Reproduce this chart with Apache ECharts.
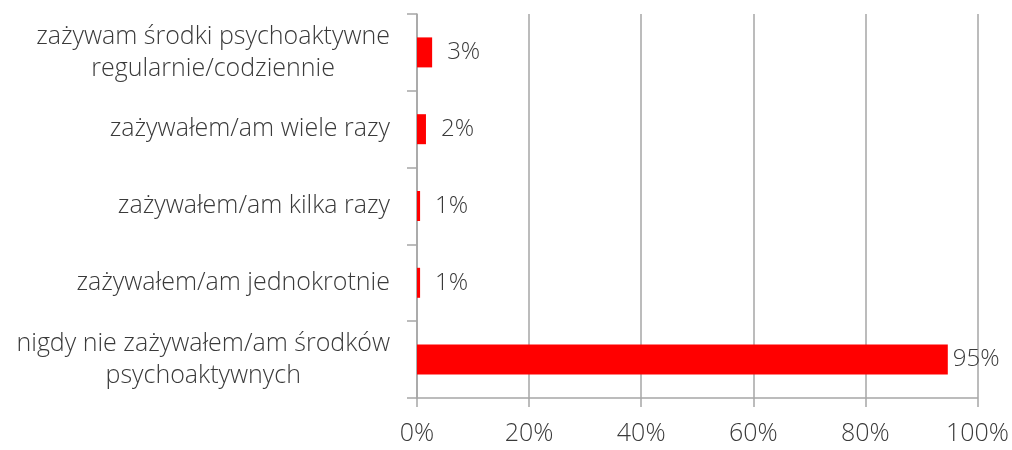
<!DOCTYPE html>
<html>
<head>
<meta charset="utf-8">
<script src="https://cdn.jsdelivr.net/npm/echarts@6/dist/echarts.min.js"></script>
<style>
  html, body { margin: 0; padding: 0; background: #fff; }
  #chart { width: 1012px; height: 450px; }
</style>
</head>
<body>
<div id="chart"></div>
<script>
// top to bottom, as in the picture
const categories = [
  'zażywam środki psychoaktywne\nregularnie/codziennie',
  'zażywałem/am wiele razy',
  'zażywałem/am kilka razy',
  'zażywałem/am jednokrotnie',
  'nigdy nie zażywałem/am środków\npsychoaktywnych'
]
const shares = [2.7, 1.6, 0.55, 0.55, 94.7]
const shareLabels = ['3%', '2%', '1%', '1%', '95%']

const FONT = '"Open Sans", "Segoe UI", sans-serif'
const TEXT = '#3a3a3a'
const GRID = '#a6a6a6'

const chart = echarts.init(document.getElementById('chart'))
chart.setOption({
  animation: false,
  grid: { left: 417, right: 31, top: 14, bottom: 52, containLabel: false },
  xAxis: {
    type: 'value',
    min: 0,
    max: 100,
    interval: 20,
    axisLine: { show: true, lineStyle: { color: GRID, width: 1.5 } },
    axisTick: { show: true, length: 9, lineStyle: { color: GRID, width: 1.5 } },
    splitLine: { show: true, lineStyle: { color: GRID, width: 1.5 } },
    axisLabel: {
      margin: 23,
      color: TEXT,
      fontFamily: FONT,
      fontWeight: 300,
      fontSize: 25,
      formatter: (v) => v + '%'
    }
  },
  yAxis: {
    type: 'category',
    inverse: true,
    data: categories,
    axisLine: { show: true, lineStyle: { color: GRID, width: 1.5 } },
    axisTick: { show: true, length: 10, lineStyle: { color: GRID, width: 1.5 } },
    axisLabel: {
      margin: 27,
      formatter: (v) => '{c|' + v + '}',
      rich: {
        c: {
          align: 'center',
          color: TEXT,
          fontFamily: FONT,
          fontWeight: 300,
          fontSize: 25,
          lineHeight: 32
        }
      }
    }
  },
  series: [{
    type: 'bar',
    barWidth: 30,
    itemStyle: { color: '#ff0000' },
    data: shares.map((v) => ({
      value: v,
      label: { distance: v > 50 ? 5 : 15 }
    })),
    label: {
      show: true,
      position: 'right',
      color: TEXT,
      fontFamily: FONT,
      fontWeight: 300,
      fontSize: 24,
      formatter: (p) => shareLabels[p.dataIndex]
    }
  }]
})
</script>
</body>
</html>
